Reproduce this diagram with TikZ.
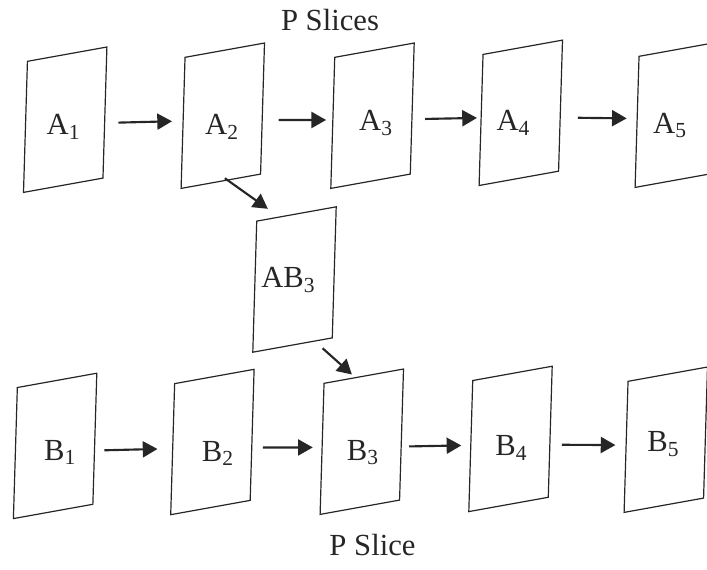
\documentclass[tikz,border=0pt]{standalone}
\usepackage{fontspec}
\setmainfont{Liberation Serif}
\usepackage{tikz}
\usetikzlibrary{arrows.meta,calc}

\begin{document}
\begin{tikzpicture}[
  x=0.75pt, y=-0.75pt,
  slice/.style={draw=black!85,line width=0.9pt,minimum width=59.6pt,minimum height=98.3pt,inner sep=0pt,cm={1,0.18,0.03,1,(0,0)}},
  tag/.style={anchor=base,inner sep=0pt,text=black!85,font=\fontsize{23}{28}\selectfont},
  arrow/.style={-{Triangle[length=11pt,width=12pt]},line width=1.6pt,draw=black!85}
]
\useasboundingbox (0,0) rectangle (707,569);
\clip (0,0) rectangle (707,569);

\node[slice] (a1) at (65.2,119.7) {};
\node[slice] (a2) at (222.8,115.7) {};
\node[slice] (a3) at (372.5,115.7) {};
\node[slice] (a4) at (520.8,112.8) {};
\node[slice] (a5) at (676.8,114.7) {};
\node[slice] (ab3) at (294.5,279.5) {};
\node[slice] (b1) at (55.1,445.9) {};
\node[slice] (b2) at (212.4,442) {};
\node[slice] (b3) at (361.8,441.7) {};
\node[slice] (b4) at (510.5,438.9) {};
\node[slice] (b5) at (665.8,439.7) {};

\node[tag] (a1t) at (63.5,134.3) {A\textsubscript{1}};
\node[tag] (a2t) at (222,134.3) {A\textsubscript{2}};
\node[tag] (a3t) at (376,130.7) {A\textsubscript{3}};
\node[tag] (a4t) at (513.3,130.7) {A\textsubscript{4}};
\node[tag] (a5t) at (670,133) {A\textsubscript{5}};
\node[tag] (ab3t) at (288.3,287.3) {AB\textsubscript{3}};
\node[tag] (b1t) at (60,460) {B\textsubscript{1}};
\node[tag] (b2t) at (217.8,461) {B\textsubscript{2}};
\node[tag] (b3t) at (362.8,460) {B\textsubscript{3}};
\node[tag] (b4t) at (511.3,455.7) {B\textsubscript{4}};
\node[tag] (b5t) at (663.3,451.7) {B\textsubscript{5}};

\node[tag] (top) at (330,30.7) {P Slices};
\node[tag] (bottom) at (372.5,555.7) {P Slice};

\begin{scope}[transform canvas={yshift=-3.2pt}]
\draw[arrow,shorten <=9.8pt,shorten >=8pt] (a1) -- (a2);
\draw[arrow,shorten <=11.7pt,shorten >=4.7pt] (a2) -- (a3);
\draw[arrow,shorten <=9.4pt,shorten >=2.8pt] (a3) -- (a4);
\draw[arrow,shorten <=12.8pt,shorten >=7.5pt] (a4) -- (a5);
\end{scope}
\begin{scope}[transform canvas={yshift=-4.2pt}]
\draw[arrow,shorten <=6.8pt,shorten >=11.1pt] (b1) -- (b2);
\draw[arrow,shorten <=7.7pt,shorten >=6.7pt] (b2) -- (b3);
\draw[arrow,shorten <=5.3pt,shorten >=6.8pt] (b3) -- (b4);
\draw[arrow,shorten <=8.5pt,shorten >=7.7pt] (b4) -- (b5);
\end{scope}

\draw[arrow,shorten <=-3pt,shorten >=10pt] ($(a2.south west)!.59!(a2.south east)$) -- ($(ab3.north west)!.28!(ab3.north east)$);
\draw[arrow,shorten <=7.5pt,shorten >=3pt] ($(ab3.south west)!.78!(ab3.south east)$) -- ($(b3.north west)!.39!(b3.north east)$);
\end{tikzpicture}
\end{document}
